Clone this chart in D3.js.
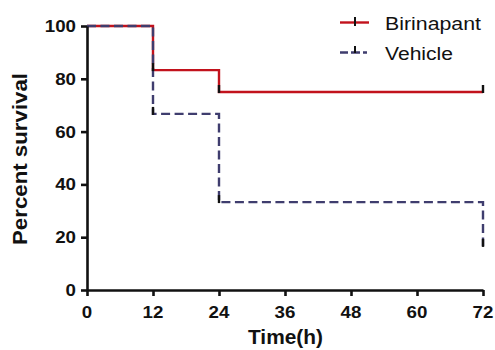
<!DOCTYPE html>
<html><head><meta charset="utf-8">
<script src="https://cdn.jsdelivr.net/npm/d3@7"></script>
<style>body{margin:0;background:#fff}svg{display:block}</style>
</head><body>
<svg id="c" width="495" height="350"></svg>
<script>
const times = [0, 12, 24, 72];
const birinapant = [100, 83.3, 75, 75];
const vehicle = [100, 66.7, 33.3, 16.7];
const xTicks = [0, 12, 24, 36, 48, 60, 72];
const yTicks = [0, 20, 40, 60, 80, 100];
const seriesNames = ["Birinapant", "Vehicle"];
const censorBirinapant = [72];

const svg = d3.select("#c");
const x = d3.scaleLinear().domain([0, 72]).range([87, 483]);
const y = d3.scaleLinear().domain([0, 100]).range([290, 26]);
const red = "#c2121c", blue = "#3f3d6e";

function stext(g, str, tx, ty, len, opts) {
  const t = g.append("text").text(str)
    .attr("transform", `translate(${tx},${ty})${opts.rot ? " rotate(-90)" : ""}`)
    .attr("font-family", "Liberation Sans, Arial, sans-serif")
    .attr("font-size", opts.size).attr("font-weight", opts.bold ? "bold" : "normal")
    .attr("text-anchor", opts.anchor || "start").attr("fill", "#111")
    .attr("textLength", len).attr("lengthAdjust", "spacingAndGlyphs");
  return t;
}

// lines
const line = d3.line().x((d, i) => x(times[i])).y(d => y(d)).curve(d3.curveStepAfter);
svg.append("path").attr("d", line(birinapant)).attr("fill", "none").attr("stroke", red).attr("stroke-width", 2.4);
svg.append("path").attr("d", line(vehicle)).attr("fill", "none").attr("stroke", blue).attr("stroke-width", 2.4)
  .attr("stroke-dasharray", "9,4.5");

// black segments at bottom of drops
function dropMarks(vals) {
  for (let i = 1; i < vals.length; i++) {
    if (vals[i] < vals[i - 1]) {
      svg.append("line").attr("x1", x(times[i])).attr("x2", x(times[i]))
        .attr("y1", y(vals[i]) - 7).attr("y2", y(vals[i]) + 1)
        .attr("stroke", "#111").attr("stroke-width", 2.4);
    }
  }
}
dropMarks(birinapant);
dropMarks(vehicle);
censorBirinapant.forEach(t => {
  svg.append("line").attr("x1", x(t)).attr("x2", x(t)).attr("y1", y(75) - 7).attr("y2", y(75) + 1)
    .attr("stroke", "#111").attr("stroke-width", 2.4);
});

// axes
const ax = svg.append("g").attr("transform", "translate(0,290)")
  .call(d3.axisBottom(x).tickValues(xTicks).tickSize(6).tickSizeOuter(0).tickFormat(""));
const ay = svg.append("g").attr("transform", "translate(87,0)")
  .call(d3.axisLeft(y).tickValues(yTicks).tickSize(6).tickSizeOuter(0).tickFormat(""));
[ax, ay].forEach(a => {
  a.select(".domain").attr("stroke", "#111").attr("stroke-width", 2.6);
  a.selectAll(".tick line").attr("stroke", "#111").attr("stroke-width", 2.6);
});
xTicks.forEach(t => stext(svg, String(t), x(t), 318, String(t).length * 10.4, {size: 16, bold: true, anchor: "middle"}));
yTicks.forEach(t => stext(svg, String(t), 76, y(t) + 6, String(t).length * 10.4, {size: 16, bold: true, anchor: "end"}));

stext(svg, "Time(h)", 285.5, 344, 75, {size: 19.5, bold: true, anchor: "middle"});
stext(svg, "Percent survival", 27, 159, 172, {size: 19.5, bold: true, anchor: "middle", rot: true});

// legend
const lg = svg.append("g");
lg.append("line").attr("x1", 340).attr("x2", 369).attr("y1", 22.5).attr("y2", 22.5).attr("stroke", red).attr("stroke-width", 2.4);
lg.append("line").attr("x1", 355).attr("x2", 355).attr("y1", 17).attr("y2", 26).attr("stroke", "#111").attr("stroke-width", 2);
lg.append("line").attr("x1", 340).attr("x2", 369).attr("y1", 52.5).attr("y2", 52.5).attr("stroke", blue).attr("stroke-width", 2.4).attr("stroke-dasharray", "8,3,9,3,4,3");
lg.append("line").attr("x1", 355).attr("x2", 355).attr("y1", 46).attr("y2", 53).attr("stroke", "#111").attr("stroke-width", 2);
stext(lg, seriesNames[0], 385, 30, 96, {size: 17.5});
stext(lg, seriesNames[1], 385, 60, 68, {size: 17.5});
</script>
</body></html>
